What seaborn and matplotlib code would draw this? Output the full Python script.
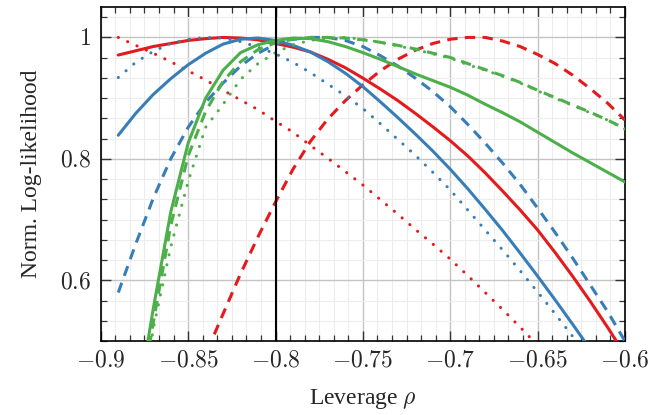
import numpy as np
import pandas as pd
import seaborn as sns
import matplotlib.pyplot as plt
from matplotlib.ticker import MultipleLocator, AutoMinorLocator, FuncFormatter

# leverage grid
rho = [-0.89, -0.88, -0.87, -0.86, -0.85, -0.84, -0.83, -0.82, -0.81, -0.80,
       -0.79, -0.78, -0.77, -0.76, -0.75, -0.74, -0.73, -0.72, -0.71, -0.70,
       -0.69, -0.68, -0.67, -0.66, -0.65, -0.64, -0.63, -0.62, -0.61, -0.60]

red_solid = [0.971, 0.978, 0.985, 0.990, 0.995, 0.998, 1.000, 0.999, 0.996, 0.990,
             0.984, 0.976, 0.964, 0.950, 0.933, 0.915, 0.896, 0.875, 0.853, 0.830,
             0.805, 0.777, 0.747, 0.716, 0.683, 0.646, 0.607, 0.566, 0.523, 0.478]
red_dashed = [0.13, 0.20, 0.27, 0.34, 0.41, 0.478, 0.545, 0.611, 0.672, 0.729,
              0.783, 0.829, 0.866, 0.896, 0.922, 0.945, 0.964, 0.979, 0.990, 0.997,
              1.000, 1.000, 0.994, 0.985, 0.972, 0.957, 0.938, 0.916, 0.892, 0.864]
red_dotted = [1.000, 0.987, 0.974, 0.960, 0.945, 0.930, 0.913, 0.897, 0.881, 0.862,
              0.844, 0.822, 0.801, 0.779, 0.757, 0.733, 0.709, 0.684, 0.660, 0.635,
              0.608, 0.580, 0.552, 0.523, 0.493, 0.462, 0.43, 0.40, 0.37, 0.34]

blue_solid = [0.839, 0.875, 0.906, 0.932, 0.955, 0.974, 0.989, 0.997, 0.999, 0.995,
              0.987, 0.976, 0.960, 0.941, 0.919, 0.894, 0.868, 0.841, 0.813, 0.783,
              0.751, 0.717, 0.682, 0.645, 0.607, 0.568, 0.528, 0.487, 0.445, 0.40]
blue_dashed = [0.580, 0.660, 0.735, 0.800, 0.852, 0.893, 0.925, 0.953, 0.974, 0.989,
               0.997, 1.000, 1.000, 0.995, 0.985, 0.970, 0.953, 0.933, 0.911, 0.886,
               0.857, 0.826, 0.793, 0.758, 0.719, 0.679, 0.637, 0.593, 0.549, 0.500]
blue_dotted = [0.934, 0.959, 0.977, 0.990, 0.997, 1.000, 0.999, 0.993, 0.984, 0.973,
               0.959, 0.942, 0.923, 0.904, 0.883, 0.858, 0.832, 0.806, 0.778, 0.749,
               0.716, 0.683, 0.650, 0.616, 0.581, 0.545, 0.508, 0.47, 0.43, 0.39]

green_solid = [0.20, 0.38, 0.553, 0.712, 0.826, 0.900, 0.946, 0.975, 0.988, 0.995,
               0.999, 0.998, 0.993, 0.985, 0.975, 0.964, 0.952, 0.940, 0.929, 0.918,
               0.905, 0.890, 0.876, 0.861, 0.844, 0.827, 0.810, 0.794, 0.778, 0.762]
green_dashed = [0.20, 0.36, 0.53, 0.69, 0.805, 0.878, 0.928, 0.960, 0.980, 0.991,
                0.997, 1.000, 1.000, 0.999, 0.996, 0.992, 0.987, 0.981, 0.974, 0.967,
                0.957, 0.947, 0.937, 0.926, 0.913, 0.901, 0.889, 0.877, 0.864, 0.850]
green_dotted = [0.15, 0.33, 0.52, 0.655, 0.763, 0.852, 0.890, 0.931, 0.957, 0.975,
                0.988, 0.995, 0.999, 1.000, 0.997, 0.992, 0.986, 0.980, 0.973, 0.966,
                0.955, 0.946, 0.936, 0.925, 0.912, 0.900, 0.888, 0.876, 0.864, 0.849]

rho_star = -0.8

series = {
    ('red', 'solid'): red_solid, ('red', 'dashed'): red_dashed, ('red', 'dotted'): red_dotted,
    ('blue', 'solid'): blue_solid, ('blue', 'dashed'): blue_dashed, ('blue', 'dotted'): blue_dotted,
    ('green', 'solid'): green_solid, ('green', 'dashed'): green_dashed, ('green', 'dotted'): green_dotted,
}
colors = {'red': '#e41a1c', 'blue': '#377eb8', 'green': '#4daf4a'}
dashes = {'solid': '-', 'dashed': (0, (3.4, 2.4)), 'dotted': (0, (0.05, 3.3))}

sns.set_style('white')
plt.rcParams['mathtext.fontset'] = 'cm'
plt.rcParams['font.family'] = ['Liberation Serif', 'DejaVu Serif']

fig = plt.figure(figsize=(6.72, 4.15), dpi=100)
ax = fig.add_axes([0.150, 0.178, 0.780, 0.805])

for (c, s), vals in series.items():
    df = pd.DataFrame({'rho': rho, 'll': vals})
    sns.lineplot(data=df, x='rho', y='ll', color=colors[c], linestyle=dashes[s],
                 linewidth=2.2, ax=ax, zorder=3)
    ln = ax.lines[-1]
    ln.set_dash_capstyle('round' if s == 'dotted' else 'butt')
    ln.set_solid_joinstyle('round')

ax.axvline(rho_star, color='black', linewidth=1.5, zorder=4)

ax.set_xlim(-0.9, -0.6)
ax.set_ylim(0.5, 1.05)
ax.xaxis.set_major_locator(MultipleLocator(0.05))
ax.yaxis.set_major_locator(MultipleLocator(0.2))
ax.xaxis.set_minor_locator(AutoMinorLocator(6))
ax.yaxis.set_minor_locator(AutoMinorLocator(6))

def fmt(v, pos):
    s = ('%.2f' % v).rstrip('0').rstrip('.')
    return r'$%s$' % s
ax.xaxis.set_major_formatter(FuncFormatter(fmt))
ax.yaxis.set_major_formatter(FuncFormatter(fmt))

ax.grid(which='major', color='#c4c4c4', linewidth=1.0, zorder=0)
ax.grid(which='minor', color='#ededed', linewidth=0.8, zorder=0)
ax.set_axisbelow(True)

ax.tick_params(which='both', direction='in', top=True, right=True, bottom=True, left=True,
               color='#333333', labelsize=17)
ax.tick_params(which='major', length=7, width=1.0, pad=7)
ax.tick_params(which='minor', length=4.5, width=0.9)
for sp in ax.spines.values():
    sp.set_color('black')
    sp.set_linewidth(1.2)

ax.set_xlabel(r'Leverage $\rho$', fontsize=17, labelpad=11)
ax.set_ylabel('Norm. Log-likelihood', fontsize=17, labelpad=13)

fig.savefig('out.png', dpi=100)
